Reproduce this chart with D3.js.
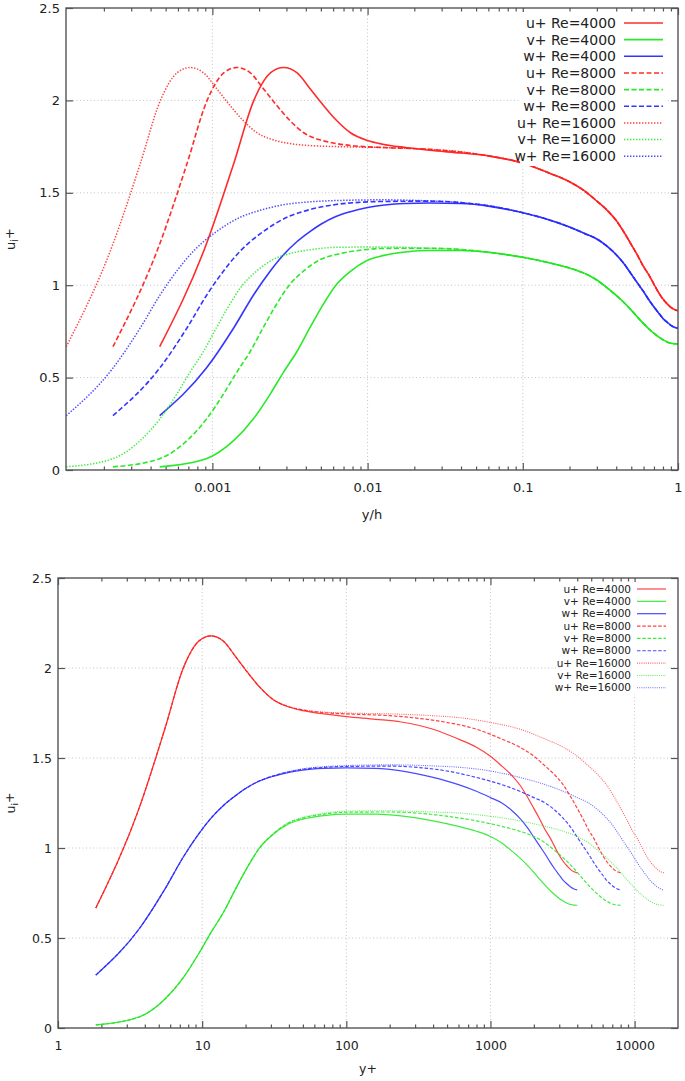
<!DOCTYPE html>
<html><head><meta charset="utf-8">
<script src="https://cdn.jsdelivr.net/npm/d3@7"></script>
<style>
body{margin:0;background:#fff}
text{font-family:"DejaVu Sans",sans-serif;fill:#222}
</style>
</head><body>
<svg id="c" width="685" height="1081"></svg>
<script>
// ---------------- data ----------------
const reynolds = [4000, 8000, 16000];

const yPlus4000 = [1.83, 3.65, 5.5, 7.4, 9.5, 11.5, 14, 17, 20, 25, 31, 40, 50, 70, 100, 160, 240, 400, 600, 800, 1000, 1200, 1400, 1600, 1800, 2000, 2200, 2400, 2600, 2800, 3000, 3200, 3400, 3600, 3800, 4000];
const u4000 = [0.667, 1.22, 1.66, 2.0, 2.15, 2.178, 2.15, 2.065, 1.99, 1.895, 1.825, 1.783, 1.763, 1.745, 1.73, 1.715, 1.70, 1.66, 1.605, 1.56, 1.51, 1.455, 1.405, 1.35, 1.285, 1.22, 1.16, 1.10, 1.055, 1.005, 0.96, 0.925, 0.90, 0.88, 0.868, 0.862];
const v4000 = [0.017, 0.061, 0.16, 0.28, 0.415, 0.53, 0.64, 0.77, 0.875, 1.0, 1.075, 1.135, 1.16, 1.18, 1.188, 1.188, 1.178, 1.151, 1.12, 1.093, 1.064, 1.028, 0.985, 0.945, 0.905, 0.865, 0.826, 0.792, 0.763, 0.74, 0.72, 0.705, 0.693, 0.686, 0.683, 0.682];
const w4000 = [0.294, 0.55, 0.77, 0.95, 1.08, 1.165, 1.235, 1.29, 1.33, 1.372, 1.398, 1.42, 1.433, 1.442, 1.445, 1.442, 1.428, 1.392, 1.352, 1.315, 1.28, 1.25, 1.21, 1.165, 1.115, 1.06, 1.01, 0.965, 0.92, 0.882, 0.85, 0.82, 0.80, 0.783, 0.772, 0.767];

const yPlus8000 = [1.83, 3.65, 5.5, 7.4, 9.5, 11.5, 14, 17, 20, 25, 31, 40, 50, 70, 100, 200, 320, 480, 800, 1200, 1600, 2000, 2400, 2800, 3200, 3600, 4000, 4400, 4800, 5200, 5600, 6000, 6400, 6800, 7200, 7600, 8000];
const u8000 = [0.667, 1.22, 1.66, 2.0, 2.15, 2.178, 2.15, 2.065, 1.99, 1.895, 1.825, 1.785, 1.767, 1.752, 1.745, 1.735, 1.72, 1.70, 1.66, 1.605, 1.56, 1.51, 1.455, 1.405, 1.35, 1.285, 1.22, 1.16, 1.10, 1.055, 1.005, 0.96, 0.925, 0.90, 0.88, 0.868, 0.862];
const v8000 = [0.017, 0.061, 0.16, 0.28, 0.415, 0.53, 0.64, 0.77, 0.875, 1.0, 1.077, 1.14, 1.166, 1.188, 1.199, 1.2, 1.193, 1.178, 1.151, 1.12, 1.093, 1.064, 1.028, 0.985, 0.945, 0.905, 0.865, 0.826, 0.792, 0.763, 0.74, 0.72, 0.705, 0.693, 0.686, 0.683, 0.682];
const w8000 = [0.294, 0.55, 0.77, 0.95, 1.08, 1.165, 1.235, 1.29, 1.33, 1.373, 1.4, 1.423, 1.437, 1.448, 1.453, 1.455, 1.447, 1.43, 1.392, 1.352, 1.315, 1.28, 1.25, 1.21, 1.165, 1.115, 1.06, 1.01, 0.965, 0.92, 0.882, 0.85, 0.82, 0.80, 0.783, 0.772, 0.767];

const yPlus16000 = [1.83, 3.65, 5.5, 7.4, 9.5, 11.5, 14, 17, 20, 25, 31, 40, 50, 70, 100, 200, 400, 640, 960, 1600, 2400, 3200, 4000, 4800, 5600, 6400, 7200, 8000, 8800, 9600, 10400, 11200, 12000, 12800, 13600, 14400, 15200, 16000];
const u16000 = [0.667, 1.22, 1.66, 2.0, 2.15, 2.178, 2.15, 2.065, 1.99, 1.895, 1.825, 1.785, 1.767, 1.755, 1.75, 1.745, 1.735, 1.722, 1.70, 1.66, 1.605, 1.56, 1.51, 1.455, 1.405, 1.35, 1.285, 1.22, 1.16, 1.10, 1.055, 1.005, 0.96, 0.925, 0.90, 0.88, 0.868, 0.862];
const v16000 = [0.017, 0.061, 0.16, 0.28, 0.415, 0.53, 0.64, 0.77, 0.875, 1.0, 1.078, 1.142, 1.17, 1.193, 1.205, 1.207, 1.2, 1.193, 1.178, 1.151, 1.12, 1.093, 1.064, 1.028, 0.985, 0.945, 0.905, 0.865, 0.826, 0.792, 0.763, 0.74, 0.72, 0.705, 0.693, 0.686, 0.683, 0.682];
const w16000 = [0.294, 0.55, 0.77, 0.95, 1.08, 1.165, 1.235, 1.29, 1.33, 1.373, 1.4, 1.425, 1.44, 1.452, 1.458, 1.462, 1.456, 1.447, 1.43, 1.392, 1.352, 1.315, 1.28, 1.25, 1.21, 1.165, 1.115, 1.06, 1.01, 0.965, 0.92, 0.882, 0.85, 0.82, 0.80, 0.783, 0.772, 0.767];

const seriesLabels = ["u+ Re=4000","v+ Re=4000","w+ Re=4000","u+ Re=8000","v+ Re=8000","w+ Re=8000","u+ Re=16000","v+ Re=16000","w+ Re=16000"];

const yTicks = [0, 0.5, 1, 1.5, 2, 2.5];
const yTickLabels = ["0", "0.5", "1", "1.5", "2", "2.5"];
const xTicksTop = [0.001, 0.01, 0.1, 1];
const xTickLabelsTop = ["0.001", "0.01", "0.1", "1"];
const xTicksBottom = [1, 10, 100, 1000, 10000];
const xTickLabelsBottom = ["1", "10", "100", "1000", "10000"];

// ---------------- styling ----------------
const colors = {u: "#ff2020", v: "#1ee81e", w: "#2a2aff"};
const series = [
  {Re: 4000, yp: yPlus4000, vals: u4000, c: "u", style: "solid"},
  {Re: 4000, yp: yPlus4000, vals: v4000, c: "v", style: "solid"},
  {Re: 4000, yp: yPlus4000, vals: w4000, c: "w", style: "solid"},
  {Re: 8000, yp: yPlus8000, vals: u8000, c: "u", style: "dashed"},
  {Re: 8000, yp: yPlus8000, vals: v8000, c: "v", style: "dashed"},
  {Re: 8000, yp: yPlus8000, vals: w8000, c: "w", style: "dashed"},
  {Re: 16000, yp: yPlus16000, vals: u16000, c: "u", style: "dotted"},
  {Re: 16000, yp: yPlus16000, vals: v16000, c: "v", style: "dotted"},
  {Re: 16000, yp: yPlus16000, vals: w16000, c: "w", style: "dotted"}
].map((s, i) => Object.assign(s, {label: seriesLabels[i]}));

const svg = d3.select("#c");

function drawPanel(p) {
  const g = svg.append("g");
  const x = d3.scaleLog().domain(p.xDomain).range([p.left, p.right]);
  const y = d3.scaleLinear().domain([0, 2.5]).range([p.bottom, p.top]);

  // grid
  const grid = g.append("g").attr("stroke", "#c4c4c4").attr("stroke-width", 1).attr("stroke-dasharray", "1,2.5");
  p.xTicks.filter(t => x(t) > p.left + 1 && x(t) < p.right - 1).forEach(t => {
    grid.append("line").attr("x1", x(t)).attr("x2", x(t)).attr("y1", p.top).attr("y2", p.bottom);
  });
  yTicks.filter(t => t > 0 && t < 2.5).forEach(t => {
    grid.append("line").attr("x1", p.left).attr("x2", p.right).attr("y1", y(t)).attr("y2", y(t));
  });

  // minor log ticks
  const minor = [];
  const lo = Math.floor(Math.log10(p.xDomain[0])), hi = Math.ceil(Math.log10(p.xDomain[1]));
  for (let e = lo; e < hi; e++) for (let m = 2; m <= 9; m++) {
    const v = m * Math.pow(10, e);
    if (v > p.xDomain[0] && v < p.xDomain[1]) minor.push(v);
  }

  const axStyle = sel => {
    sel.select(".domain").remove();
    sel.selectAll(".tick line").attr("stroke", "#555").attr("stroke-width", 1.2);
    sel.selectAll("text").attr("fill", "#222").style("font-size", p.fs + "px").attr("font-family", "DejaVu Sans, sans-serif");
  };
  g.append("g").attr("transform", `translate(0,${p.bottom})`)
    .call(d3.axisBottom(x).tickValues(p.xTicks).tickFormat((d, i) => p.xTickLabels[i]).tickSizeInner(-7).tickSizeOuter(0).tickPadding(p.xPad))
    .call(axStyle);
  g.append("g").attr("transform", `translate(0,${p.bottom})`)
    .call(d3.axisBottom(x).tickValues(minor).tickFormat("").tickSizeInner(-3.5).tickSizeOuter(0)).call(axStyle);
  g.append("g").attr("transform", `translate(0,${p.top})`)
    .call(d3.axisTop(x).tickValues(p.xTicks).tickFormat("").tickSizeInner(-7).tickSizeOuter(0)).call(axStyle);
  g.append("g").attr("transform", `translate(0,${p.top})`)
    .call(d3.axisTop(x).tickValues(minor).tickFormat("").tickSizeInner(-3.5).tickSizeOuter(0)).call(axStyle);
  g.append("g").attr("transform", `translate(${p.left},0)`)
    .call(d3.axisLeft(y).tickValues(yTicks).tickFormat((d, i) => yTickLabels[i]).tickSizeInner(-7).tickSizeOuter(0).tickPadding(p.yPad))
    .call(axStyle);
  g.append("g").attr("transform", `translate(${p.right},0)`)
    .call(d3.axisRight(y).tickValues(yTicks).tickFormat("").tickSizeInner(-7).tickSizeOuter(0)).call(axStyle);

  // curves
  const clipId = "clip" + p.id;
  svg.append("clipPath").attr("id", clipId).append("rect")
    .attr("x", p.left).attr("y", p.top).attr("width", p.right - p.left).attr("height", p.bottom - p.top);
  const line = d3.line().x(d => x(d[0])).y(d => y(d[1])).curve(d3.curveMonotoneX);
  const curves = g.append("g").attr("clip-path", `url(#${clipId})`);
  series.forEach(s => {
    const pts = s.yp.map((yp, i) => [p.xOf(yp, s.Re), s.vals[i]]);
    curves.append("path").attr("d", line(pts)).attr("fill", "none")
      .attr("stroke", colors[s.c]).attr("stroke-width", p.lw[s.style])
      .attr("stroke-opacity", p.op[s.style])
      .attr("stroke-dasharray", p.dash[s.style]);
  });

  // frame
  g.append("rect").attr("x", p.left).attr("y", p.top).attr("width", p.right - p.left).attr("height", p.bottom - p.top)
    .attr("fill", "none").attr("stroke", "#555").attr("stroke-width", 1.4);

  // legend
  const lg = g.append("g");
  lg.append("rect").attr("x", p.leg.boxX).attr("y", p.leg.boxY).attr("width", p.leg.boxW).attr("height", p.leg.boxH).attr("fill", "#fff");
  series.forEach((s, i) => {
    const cy = p.leg.y0 + i * p.leg.dy;
    lg.append("text").attr("x", p.leg.textX).attr("y", cy).attr("dy", "0.35em").attr("text-anchor", "end")
      .style("font-size", p.leg.fs + "px").text(s.label);
    lg.append("line").attr("x1", p.leg.lx1).attr("x2", p.leg.lx2).attr("y1", cy).attr("y2", cy)
      .attr("stroke", colors[s.c]).attr("stroke-width", p.lw[s.style]).attr("stroke-opacity", p.op[s.style])
      .attr("stroke-dasharray", p.dash[s.style]);
  });

  // axis titles
  g.append("text").attr("x", (p.left + p.right) / 2).attr("y", p.xTitleY).attr("text-anchor", "middle")
    .style("font-size", p.fs + "px").text(p.xTitle);
  const yt = g.append("text").attr("transform", `translate(${p.yTitleX},${(p.top + p.bottom) / 2}) rotate(-90)`)
    .attr("text-anchor", "middle").style("font-size", p.fs + "px");
  yt.append("tspan").text("u");
  yt.append("tspan").attr("dy", "0.3em").style("font-size", (p.fs * 0.75) + "px").text("i");
  yt.append("tspan").attr("dy", "-0.3em").text("+");
}

drawPanel({
  id: "top", left: 66, right: 678, top: 8, bottom: 470,
  xDomain: [1.14e-4, 1], xTicks: xTicksTop, xTickLabels: xTickLabelsTop,
  xOf: (yp, Re) => yp / Re, fs: 13, xPad: 13, yPad: 6,
  lw: {solid: 1.6, dashed: 1.6, dotted: 1.5}, op: {solid: 0.95, dashed: 0.95, dotted: 0.85},
  dash: {solid: null, dashed: "5,2.5", dotted: "1.4,1.6"},
  leg: {boxX: 520, boxY: 12, boxW: 148, boxH: 154, y0: 23, dy: 16.65, textX: 616, lx1: 624, lx2: 663, fs: 14},
  xTitle: "y/h", xTitleY: 519, yTitleX: 15
});

drawPanel({
  id: "bot", left: 58, right: 678, top: 578, bottom: 1028,
  xDomain: [1, 20000], xTicks: xTicksBottom, xTickLabels: xTickLabelsBottom,
  xOf: (yp, Re) => yp, fs: 12.5, xPad: 13, yPad: 6,
  lw: {solid: 1.2, dashed: 1.2, dotted: 1.1}, op: {solid: 0.85, dashed: 0.85, dotted: 0.7},
  dash: {solid: null, dashed: "3.5,1.8", dotted: "1,1.2"},
  leg: {boxX: 560, boxY: 582, boxW: 108, boxH: 112, y0: 589, dy: 12.35, textX: 631, lx1: 637, lx2: 666, fs: 10.5},
  xTitle: "y+", xTitleY: 1073, yTitleX: 15
});
</script>
</body></html>
